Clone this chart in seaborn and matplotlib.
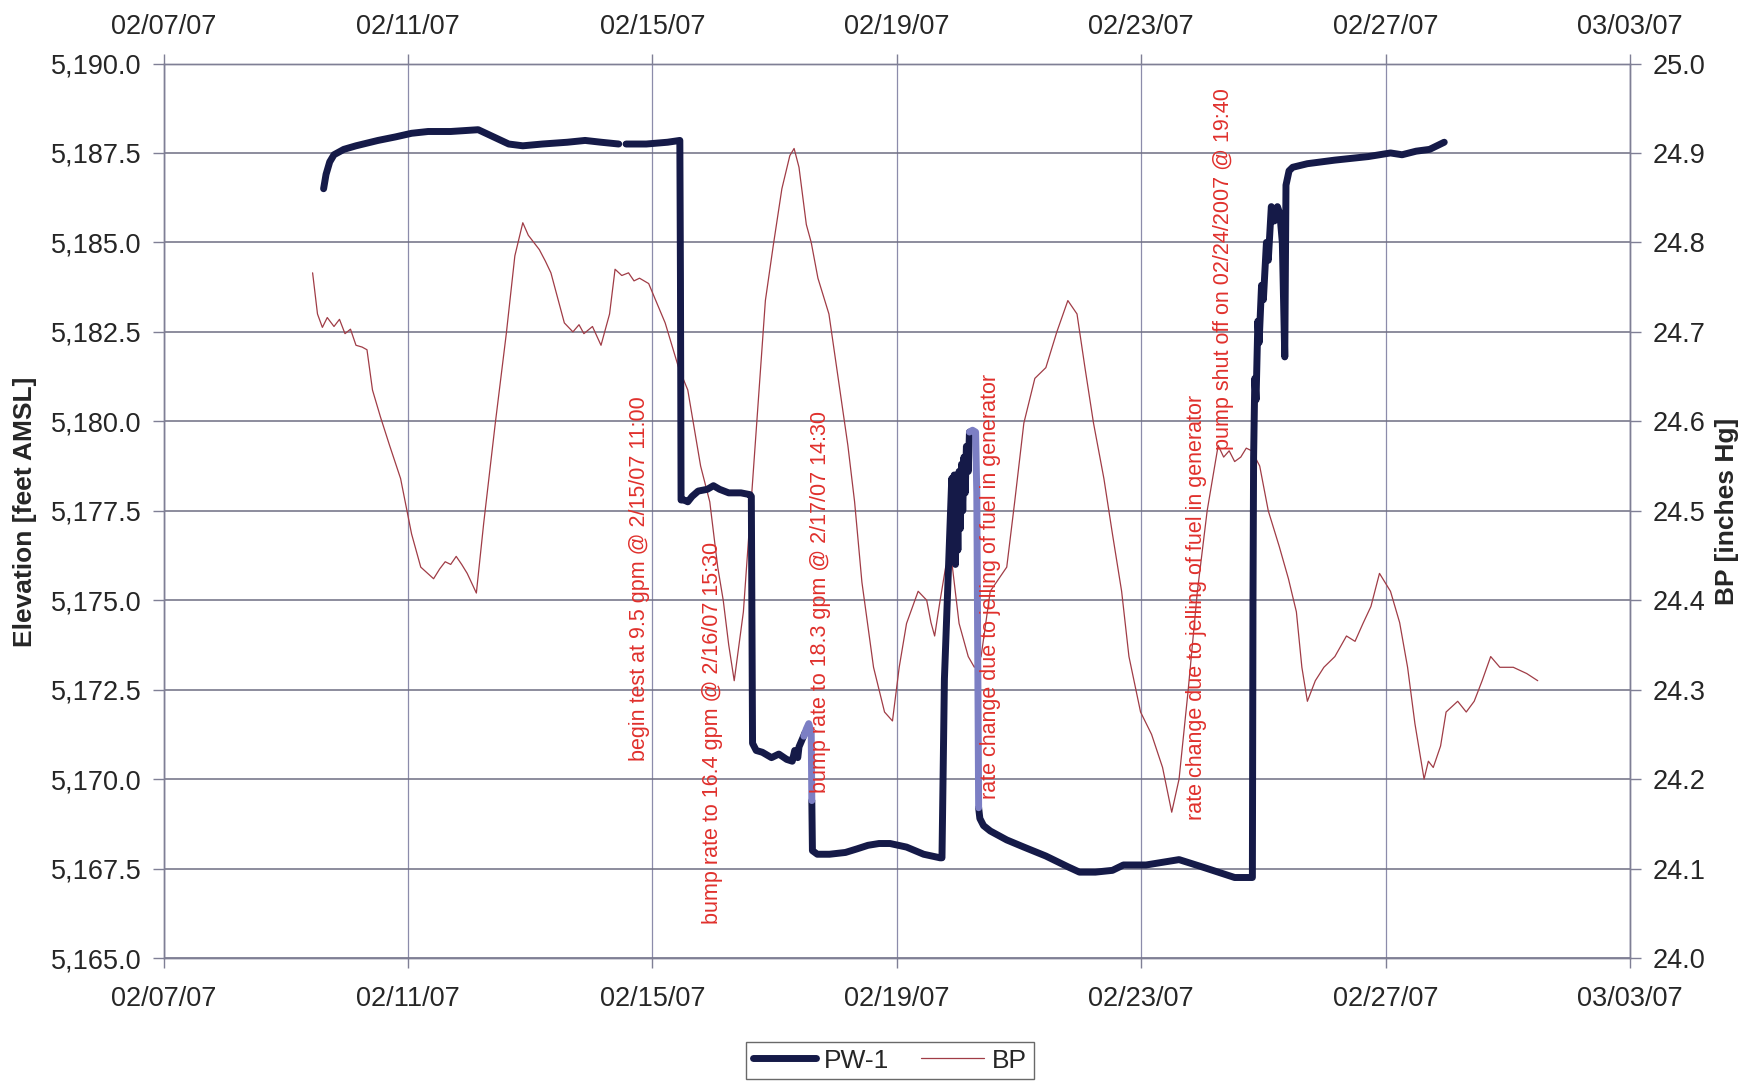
import numpy as np
import pandas as pd
import seaborn as sns
import matplotlib
matplotlib.use("Agg")
import matplotlib.pyplot as plt
import matplotlib.dates as mdates
from matplotlib.ticker import FuncFormatter, MultipleLocator

# PW-1 water level (day of Feb 2007, elevation ft AMSL); None marks a data gap
pw_day = [9.62, 9.66, 9.72, 9.79, 9.95, 10.15, 10.51, 10.80, 11.06, 11.33, 11.70, 12.15, 12.40,
          12.65, 12.88, 13.20, 13.61, 13.90, 14.16, 14.45, None,
          14.57, 14.90, 15.25, 15.45, 15.46, 15.47, 15.52, 15.58, 15.65, 15.75, 15.90, 16.00,
          16.10, 16.25, 16.45, 16.60, 16.62, 16.64, 16.70, 16.80, 16.95, 17.07, 17.20, 17.29,
          17.33, 17.38, 17.40, 17.45, 17.50]
pw_elev = [5186.5, 5186.9, 5187.25, 5187.45, 5187.6, 5187.7, 5187.85, 5187.95, 5188.05, 5188.1,
           5188.1, 5188.15, 5187.95, 5187.75, 5187.7, 5187.75, 5187.8, 5187.85, 5187.8, 5187.75, None,
           5187.75, 5187.75, 5187.8, 5187.85, 5184.0, 5177.8, 5177.8, 5177.75, 5177.9, 5178.05,
           5178.1, 5178.2, 5178.1, 5178.0, 5178.0, 5177.95, 5177.9, 5171.0, 5170.8, 5170.75,
           5170.6, 5170.7, 5170.55, 5170.5, 5170.8, 5170.6, 5170.9, 5171.1, 5171.3]

pw2_day = [17.61, 17.62, 17.70, 17.90, 18.16, 18.35, 18.53, 18.71, 18.89, 19.16, 19.44, 19.71,
           19.74, 19.78, 19.84, 19.90, 19.92, 19.94, 19.96, 19.98, 20.00, 20.02, 20.04, 20.06,
           20.08, 20.10, 20.12, 20.14, 20.17, 20.19]
pw2_elev = [5169.4, 5168.0, 5167.9, 5167.9, 5167.95, 5168.05, 5168.15, 5168.2, 5168.2, 5168.1,
            5167.9, 5167.8, 5167.8, 5172.8, 5175.6, 5178.4, 5176.5, 5178.5, 5176.0, 5178.3,
            5176.4, 5178.6, 5177.0, 5178.8, 5177.5, 5179.0, 5178.0, 5179.3, 5178.6, 5179.7]

pw3_day = [20.34, 20.36, 20.42, 20.53, 20.80, 21.08, 21.44, 21.80, 21.99, 22.25, 22.53, 22.71,
           23.08, 23.44, 23.62, 23.99, 24.35, 24.53, 24.82, 24.83, 24.84, 24.86, 24.88, 24.91,
           24.93, 24.97, 25.00, 25.05, 25.08, 25.13, 25.18, 25.23, 25.27, 25.31, 25.35, 25.37,
           25.42, 25.48, 25.72, 26.17, 26.72, 27.08, 27.27, 27.50, 27.72, 27.96]
pw3_elev = [5169.2, 5168.9, 5168.7, 5168.55, 5168.3, 5168.1, 5167.85, 5167.55, 5167.4, 5167.4,
            5167.45, 5167.6, 5167.6, 5167.7, 5167.75, 5167.55, 5167.35, 5167.25, 5167.25, 5175.0,
            5179.0, 5181.2, 5180.6, 5182.8, 5182.2, 5183.8, 5183.4, 5185.0, 5184.5, 5186.0,
            5185.6, 5186.0, 5185.8, 5185.0, 5181.8, 5186.6, 5187.0, 5187.1, 5187.2, 5187.3,
            5187.4, 5187.5, 5187.45, 5187.55, 5187.6, 5187.8]

# lighter-coloured PW-1 pieces at the rate changes
pwl_day = [17.48, 17.52, 17.56, 17.60, 17.61, None, 20.19, 20.24, 20.29, 20.31, 20.34]
pwl_elev = [5171.2, 5171.4, 5171.55, 5171.3, 5169.4, None, 5179.7, 5179.75, 5179.7, 5178.0, 5169.2]

# barometric pressure (day of Feb 2007, inches Hg)
bp_day = [9.44, 9.52, 9.60, 9.68, 9.79, 9.88, 9.97, 10.06, 10.15, 10.25, 10.33, 10.42, 10.55,
          10.70, 10.88, 11.06, 11.21, 11.42, 11.52, 11.61, 11.70, 11.79, 11.88, 11.97, 12.12,
          12.24, 12.43, 12.61, 12.75, 12.88, 12.97, 13.06, 13.15, 13.25, 13.34, 13.56,
          13.70, 13.80, 13.88, 14.02, 14.16, 14.30, 14.39, 14.50, 14.61, 14.70, 14.79, 14.94,
          15.21, 15.43, 15.58, 15.70, 15.79, 15.94, 16.07, 16.16, 16.25, 16.34, 16.49, 16.58,
          16.71, 16.85, 16.98, 17.12, 17.25, 17.32, 17.40, 17.52, 17.60, 17.71, 17.89, 18.07,
          18.20, 18.31, 18.43, 18.62, 18.80, 18.93, 19.04, 19.16, 19.35, 19.49, 19.56, 19.62,
          19.71, 19.80, 19.89, 20.02, 20.17, 20.27, 20.38, 20.53, 20.67, 20.80, 20.93, 21.08,
          21.26, 21.44, 21.62, 21.80, 21.95, 22.08, 22.22, 22.39, 22.53, 22.68, 22.80, 22.99,
          23.17, 23.35, 23.50, 23.62, 23.77, 23.92, 24.08, 24.26, 24.35, 24.44, 24.53, 24.63,
          24.72, 24.81, 24.94, 25.08, 25.26, 25.41, 25.54, 25.63, 25.72, 25.85, 25.99, 26.17,
          26.36, 26.50, 26.63, 26.76, 26.90, 27.08, 27.23, 27.36, 27.48, 27.63, 27.70, 27.78,
          27.90, 27.99, 28.18, 28.32, 28.45, 28.58, 28.72, 28.87, 29.09, 29.31, 29.49]
bp_val = [24.766, 24.720, 24.705, 24.716, 24.706, 24.714, 24.698, 24.703, 24.685, 24.683, 24.680,
          24.635, 24.605, 24.573, 24.536, 24.474, 24.437, 24.424, 24.435, 24.443, 24.440, 24.449,
          24.440, 24.430, 24.408, 24.486, 24.598, 24.698, 24.785, 24.822, 24.808, 24.800, 24.792,
          24.779, 24.766, 24.710, 24.700, 24.708, 24.698, 24.706, 24.685, 24.720, 24.770, 24.763,
          24.766, 24.757, 24.760, 24.754, 24.710, 24.660, 24.635, 24.586, 24.550, 24.510, 24.437,
          24.400, 24.350, 24.310, 24.387, 24.474, 24.598, 24.735, 24.797, 24.860, 24.897, 24.905,
          24.884, 24.820, 24.800, 24.760, 24.720, 24.635, 24.573, 24.510, 24.420, 24.325, 24.275,
          24.265, 24.325, 24.374, 24.410, 24.400, 24.375, 24.360, 24.400, 24.437, 24.449, 24.374,
          24.337, 24.325, 24.337, 24.410, 24.424, 24.437, 24.510, 24.598, 24.648, 24.660, 24.700,
          24.735, 24.720, 24.660, 24.598, 24.536, 24.474, 24.410, 24.337, 24.275, 24.250, 24.213,
          24.163, 24.200, 24.300, 24.410, 24.500, 24.573, 24.560, 24.567, 24.555, 24.560, 24.570,
          24.567, 24.550, 24.500, 24.460, 24.424, 24.387, 24.325, 24.287, 24.310, 24.325, 24.337,
          24.360, 24.354, 24.374, 24.393, 24.430, 24.410, 24.375, 24.325, 24.262, 24.200, 24.220,
          24.213, 24.237, 24.275, 24.287, 24.275, 24.287, 24.310, 24.337, 24.325, 24.325, 24.318,
          24.310]

notes = ["begin test at 9.5 gpm @ 2/15/07 11:00",
         "bump rate to 16.4 gpm @ 2/16/07 15:30",
         "bump rate to 18.3 gpm @ 2/17/07 14:30",
         "rate change due to jelling of fuel in generator",
         "rate change due to jelling of fuel in generator",
         "pump shut off on 02/24/2007 @ 19:40"]
note_day = [14.79, 15.98, 17.76, 20.53, 23.90, 24.35]
note_elev = [5170.5, 5165.95, 5169.6, 5169.45, 5168.85, 5179.2]


def to_time(days):
    d = np.array([np.nan if v is None else v for v in days], dtype=float)
    return pd.Timestamp("2007-02-01") + pd.to_timedelta(d - 1, unit="D")


def segments(days, vals):
    df = pd.DataFrame({"time": to_time(days),
                       "val": np.array([np.nan if v is None else v for v in vals], dtype=float)})
    df["seg"] = df["val"].isna().cumsum()
    return df.dropna()


pw = segments(pw_day, pw_elev)
pw2 = segments(pw2_day, pw2_elev)
pw3 = segments(pw3_day, pw3_elev)
pwl = segments(pwl_day, pwl_elev)
bp = pd.DataFrame({"time": to_time(bp_day), "val": bp_val})

sns.set_style("white")
plt.rcParams["font.family"] = ["Liberation Sans", "DejaVu Sans"]

navy = "#151a48"
light = "#7c7fc4"
bp_col = "#a03c46"
grid_col = "#7f7f95"

fig = plt.figure(figsize=(17.45, 10.82), dpi=100)
ax = fig.add_axes([0.0937, 0.1146, 0.9341 - 0.0937, 0.9413 - 0.1146])
ax2 = ax.twinx()
ax2.xaxis.set_visible(True)
ax.set_zorder(ax2.get_zorder() + 1)
ax.patch.set_visible(False)

# BP on right axis
sns.lineplot(data=bp, x="time", y="val", ax=ax2, color=bp_col, linewidth=0.9,
             estimator=None, sort=False, label="BP", legend=False)

# PW-1 on left axis
for i, df in enumerate([pw, pw2, pw3]):
    sns.lineplot(data=df, x="time", y="val", units="seg", estimator=None, sort=False, ax=ax,
                 color=navy, linewidth=5, legend=False, label="PW-1" if i == 0 else None)
sns.lineplot(data=pwl, x="time", y="val", units="seg", estimator=None, sort=False, ax=ax,
             color=light, linewidth=5, legend=False)
for ln in ax.lines:
    ln.set_solid_capstyle("round")
    ln.set_solid_joinstyle("round")

# axes ranges and ticks
x0, x1 = pd.Timestamp("2007-02-07"), pd.Timestamp("2007-03-03")
ax.set_xlim(x0, x1)
ax.set_xticks(pd.date_range(x0, x1, freq="4D"))
ax.xaxis.set_major_formatter(mdates.DateFormatter("%m/%d/%y"))
ax.set_ylim(5165, 5190)
ax.yaxis.set_major_locator(MultipleLocator(2.5))
ax.yaxis.set_major_formatter(FuncFormatter(lambda v, p: f"{v:,.1f}"))
ax2.set_ylim(24.0, 25.0)
ax2.yaxis.set_major_locator(MultipleLocator(0.1))
ax2.yaxis.set_major_formatter(FuncFormatter(lambda v, p: f"{v:.1f}"))

ax.set_xlabel("")
ax.set_ylabel("")
ax2.set_xlabel("")
ax2.set_ylabel("")

# bottom dates on ax, top dates on the twin (shared x)
ax.tick_params(axis="x", top=False, labeltop=False, bottom=True, labelbottom=True,
               direction="out", length=7, width=1, color=grid_col, labelsize=19.5, pad=13)
ax2.tick_params(axis="x", top=True, labeltop=True, bottom=False, labelbottom=False,
                direction="out", length=7, width=1, color=grid_col, labelsize=19.5, pad=10)
ax.tick_params(axis="y", left=True, direction="out", length=8, width=1, color=grid_col,
               labelsize=19.5, pad=8)
ax2.tick_params(axis="y", right=True, direction="out", length=8, width=1, color=grid_col,
                labelsize=19.5, pad=8)

# gridlines on the lower axes so lines sit above them
ax.grid(False)
ax2.grid(False)
ax2.yaxis.grid(True, color="#6e6e82", linewidth=1.1)
ax2.xaxis.grid(True, color="#8c8cab", linewidth=0.9)
ax2.set_axisbelow(True)

for a in (ax, ax2):
    for s in a.spines.values():
        s.set_color(grid_col)
        s.set_linewidth(1)

fig.text(0.0143, 0.527, "Elevation [feet AMSL]", rotation=90, ha="center", va="center",
         fontsize=19, fontweight="bold")
fig.text(0.9897, 0.527, "BP [inches Hg]", rotation=90, ha="center", va="center",
         fontsize=19, fontweight="bold")

for txt, d, e in zip(notes, note_day, note_elev):
    t = pd.Timestamp("2007-02-01") + pd.to_timedelta(d - 1, unit="D")
    ax.text(t, e, txt, rotation=90, ha="center", va="bottom", color="#e0302c", fontsize=15.5)

handles = [ax.lines[0], ax2.lines[0]]
fig.legend(handles, ["PW-1", "BP"], loc="upper center", bbox_to_anchor=(0.51, 0.037),
           borderaxespad=0, ncol=2, fontsize=19, frameon=True, fancybox=False,
           edgecolor="#444444", handlelength=2.4, columnspacing=1.2, borderpad=0.25,
           handletextpad=0.3)

fig.savefig("out.png", dpi=100)
